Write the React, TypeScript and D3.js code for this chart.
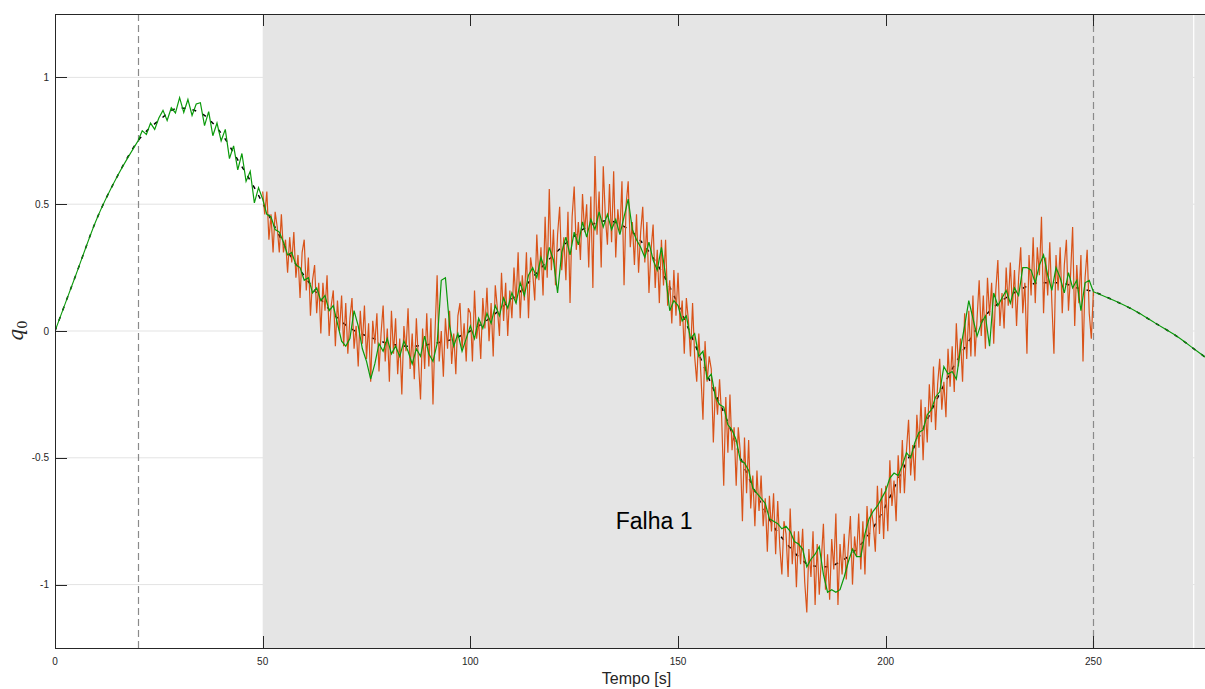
import React, { useEffect, useRef } from 'react';
import * as d3 from 'd3';

// reference attitude q0 (black dashed), read at irregular times [s]
const refTime = [
    0, 5, 10, 15, 20, 25, 30, 35, 40, 44, 48, 52, 56, 61, 66, 71, 76, 81, 86, 91, 95, 100, 105, 109, 112,
    116, 120, 124, 127, 130, 133, 136, 139, 142, 146, 150, 153, 158, 162, 166, 170, 173, 176, 179, 182,
    186, 189, 192, 196, 199, 204, 208, 212, 216, 220, 224, 228, 232, 237, 242, 246, 250, 255, 260, 265,
    270, 275, 280,
];
const refValue = [
    0, 0.22, 0.44, 0.61, 0.75, 0.83, 0.88, 0.86, 0.78, 0.675, 0.565, 0.44, 0.315, 0.195, 0.085, 0.012,
    -0.025, -0.052, -0.06, -0.05, -0.036, 0, 0.055, 0.113, 0.155, 0.23, 0.3, 0.36, 0.4, 0.425, 0.435, 0.42,
    0.39, 0.335, 0.235, 0.105, -0.01, -0.21, -0.36, -0.54, -0.68, -0.77, -0.835, -0.89, -0.925, -0.93,
    -0.91, -0.875, -0.8, -0.72, -0.55, -0.42, -0.28, -0.15, -0.04, 0.06, 0.12, 0.16, 0.19, 0.19, 0.17,
    0.155, 0.12, 0.08, 0.03, -0.02, -0.08, -0.14,
];

// estimate (green), one sample per second from t = 20 s to 250 s
const estStart = 20;
const estStep = 1;
const estimate = [
    0.75, 0.79, 0.775, 0.82, 0.795, 0.84, 0.87, 0.83, 0.88, 0.86,
    0.92, 0.862, 0.913, 0.85, 0.895, 0.9, 0.81, 0.865, 0.77, 0.82,
    0.75, 0.795, 0.68, 0.73, 0.635, 0.7, 0.59, 0.63, 0.505, 0.565,
    0.52, 0.46, 0.45, 0.4, 0.39, 0.35, 0.3, 0.31, 0.26, 0.25,
    0.2, 0.21, 0.15, 0.17, 0.12, 0.14, 0.08, 0.1, 0.03, -0.04,
    -0.06, -0.03, 0.08, 0.02, -0.07, -0.12, -0.19, -0.13, -0.05, -0.08,
    -0.03, -0.09, -0.06, -0.1, -0.04, -0.08, -0.13, -0.07, -0.1, -0.02,
    -0.09, -0.12, -0.05, 0.2, 0.21, 0.02, -0.06, -0.01, -0.08, -0.03,
    0.02, -0.03, 0.05, 0.01, 0.07, 0.03, 0.1, 0.06, 0.13, 0.09,
    0.15, 0.11, 0.19, 0.14, 0.22, 0.25, 0.21, 0.29, 0.24, 0.33,
    0.28, 0.15, 0.31, 0.37, 0.3, 0.39, 0.34, 0.43, 0.37, 0.44,
    0.4, 0.47, 0.41, 0.46, 0.4, 0.44, 0.38, 0.45, 0.52, 0.4,
    0.36, 0.33, 0.29, 0.35, 0.28, 0.24, 0.33, 0.22, 0.08, 0.12,
    0.1, 0.04, 0.06, -0.03, -0.01, -0.1, -0.08, -0.19, -0.17, -0.26,
    -0.29, -0.3, -0.37, -0.39, -0.43, -0.51, -0.52, -0.55, -0.62, -0.64,
    -0.66, -0.68, -0.74, -0.75, -0.76, -0.78, -0.77, -0.79, -0.83, -0.84,
    -0.86, -0.93, -0.9, -0.88, -0.85, -0.96, -1.03, -1.02, -1.03, -1.02,
    -0.97, -0.91, -0.86, -0.89, -0.89, -0.8, -0.74, -0.71, -0.69, -0.66,
    -0.63, -0.58, -0.56, -0.57, -0.53, -0.48, -0.5, -0.44, -0.4, -0.39,
    -0.33, -0.31, -0.26, -0.24, -0.14, -0.17, -0.16, -0.19, -0.07, 0.02,
    0.12, 0.05, -0.02, 0.03, 0.06, -0.06, 0.15, 0.1, 0.13, 0.16,
    0.11, 0.17, 0.14, 0.25, 0.25, 0.24, 0.19, 0.26, 0.3, 0.22,
    0.16, 0.25, 0.21, 0.15, 0.23, 0.17, 0.2, 0.08, 0.19, 0.2,
    0.155,
];

// measurement (orange), every 0.5 s from t = 50 s to 250 s
const measStart = 50;
const measStep = 0.5;
const measurement = [
    0.55, 0.46, 0.55, 0.36, 0.46, 0.31, 0.47, 0.41, 0.31, 0.46, 0.31, 0.36, 0.23, 0.37, 0.27, 0.39, 0.21, 0.3, 0.13, 0.31,
    0.36, 0.16, 0.29, 0.06, 0.2, 0.26, 0.07, 0.19, -0.01, 0.19, 0.08, 0.22, -0.02, 0.1, 0.16, -0.06, 0.12, 0.0, 0.14, -0.06,
    0.11, -0.09, 0.05, 0.13, -0.07, 0.02, -0.14, 0.08, -0.05, 0.1, -0.11, 0.03, -0.2, 0.04, -0.05, 0.07, -0.16, -0.01, 0.1, -0.12,
    0.01, -0.2, 0.08, -0.09, 0.05, -0.17, -0.03, -0.25, 0.02, -0.08, 0.09, -0.15, -0.01, -0.19, 0.05, -0.12, -0.27, 0.01, -0.15, 0.07,
    -0.14, 0.05, -0.29, 0.0, 0.22, -0.12, 0.0, -0.18, 0.05, -0.07, 0.08, -0.13, -0.01, -0.17, 0.06, 0.11, -0.07, 0.03, -0.12, 0.09,
    0.07, -0.12, 0.16, -0.03, 0.04, -0.11, 0.13, 0.01, 0.17, -0.04, 0.11, -0.1, 0.18, 0.09, -0.02, 0.23, 0.04, 0.19, -0.02, 0.16,
    0.05, 0.25, 0.11, 0.31, 0.05, 0.22, 0.12, 0.31, 0.05, 0.29, 0.23, 0.12, 0.38, 0.2, 0.33, 0.14, 0.45, 0.21, 0.56, 0.24,
    0.4, 0.18, 0.38, 0.49, 0.24, 0.37, 0.2, 0.47, 0.11, 0.45, 0.57, 0.32, 0.43, 0.28, 0.54, 0.39, 0.5, 0.25, 0.53, 0.17,
    0.69, 0.38, 0.55, 0.25, 0.65, 0.45, 0.34, 0.58, 0.35, 0.63, 0.29, 0.48, 0.39, 0.59, 0.18, 0.5, 0.59, 0.33, 0.43, 0.26,
    0.46, 0.23, 0.39, 0.49, 0.27, 0.43, 0.15, 0.32, 0.42, 0.17, 0.32, 0.11, 0.36, 0.18, 0.36, 0.1, 0.2, 0.03, 0.24, 0.06,
    0.23, 0.02, 0.12, -0.09, 0.13, 0.04, -0.1, 0.11, -0.1, -0.2, -0.01, -0.17, -0.35, -0.04, -0.2, -0.1, -0.15, -0.44, -0.22, -0.33,
    -0.19, -0.34, -0.61, -0.26, -0.48, -0.25, -0.47, -0.38, -0.61, -0.38, -0.48, -0.75, -0.42, -0.64, -0.43, -0.7, -0.57, -0.77, -0.55, -0.71,
    -0.57, -0.77, -0.66, -0.87, -0.65, -0.79, -0.64, -0.88, -0.67, -0.85, -0.96, -0.75, -0.8, -0.97, -0.7, -0.92, -0.79, -1.01, -0.79, -0.92,
    -0.78, -0.99, -1.11, -0.86, -0.97, -0.79, -1.08, -0.84, -1.04, -0.9, -0.76, -1.02, -0.88, -1.06, -0.82, -0.94, -0.72, -1.08, -0.84, -0.96,
    -0.8, -0.98, -0.85, -0.73, -1.0, -0.81, -0.89, -0.72, -0.94, -0.75, -0.96, -0.69, -0.85, -0.7, -0.76, -0.87, -0.61, -0.8, -0.62, -0.82,
    -0.61, -0.79, -0.51, -0.69, -0.59, -0.75, -0.49, -0.64, -0.43, -0.64, -0.47, -0.35, -0.57, -0.45, -0.59, -0.33, -0.46, -0.27, -0.51, -0.3,
    -0.44, -0.21, -0.36, -0.14, -0.39, -0.21, -0.11, -0.31, -0.2, -0.34, -0.07, -0.22, -0.06, -0.24, 0.03, -0.14, -0.03, -0.2, 0.07, -0.11,
    0.08, -0.1, 0.14, -0.1, 0.05, 0.2, -0.02, 0.14, -0.07, 0.21, 0.06, 0.19, -0.05, 0.16, 0.28, 0.02, 0.15, 0.01, 0.25, 0.1,
    0.27, 0.09, 0.24, 0.02, 0.21, 0.33, 0.07, 0.19, -0.09, 0.3, 0.14, 0.37, 0.11, 0.33, 0.22, 0.45, 0.07, 0.29, 0.14, 0.35,
    0.11, -0.09, 0.3, 0.16, 0.33, 0.07, 0.26, 0.36, 0.08, 0.22, 0.41, 0.02, 0.26, 0.11, 0.3, -0.12, 0.21, 0.32, 0.07, -0.03, 0.155,
];

// shaded fault windows and event markers [s]
const faultStart = [50, 274.3];
const faultEnd = [274, 300];
const eventTimes = [20, 250];
const faultLabel = 'Falha 1';
const faultLabelPos = [135, -0.75];

const xTicks = [0, 50, 100, 150, 200, 250];
const yTicks = [-1, -0.5, 0, 0.5, 1];

const WIDTH = 1205;
const HEIGHT = 689;
const FONT = '"Liberation Sans", Arial, Helvetica, sans-serif';

const App: React.FC = () => {
    const svgRef = useRef<SVGSVGElement | null>(null);

    useEffect(() => {
        document.body.style.margin = '0';
        if (svgRef.current) {
            drawChart();
        }
    }, []);

    const drawChart = () => {
        const left = 55;
        const top = 14;
        const bottom = 648;
        const right = 1218;

        const svg = d3.select(svgRef.current);
        svg.selectAll('*').remove();

        const x = d3.scaleLinear().domain([0, 280]).range([left, right]);
        const y = d3.scaleLinear().domain([-1.25, 1.25]).range([bottom, top]);

        svg.append('rect').attr('width', WIDTH).attr('height', HEIGHT).attr('fill', '#fff');

        svg.append('clipPath')
            .attr('id', 'plot-clip')
            .append('rect')
            .attr('x', left)
            .attr('y', top)
            .attr('width', right - left)
            .attr('height', bottom - top);

        const plot = svg.append('g').attr('clip-path', 'url(#plot-clip)');

        // horizontal grid
        plot.selectAll('.grid')
            .data(yTicks)
            .enter()
            .append('line')
            .attr('x1', left)
            .attr('x2', right)
            .attr('y1', (d) => y(d))
            .attr('y2', (d) => y(d))
            .attr('stroke', '#e3e3e3')
            .attr('stroke-width', 1);

        // fault windows
        plot.selectAll('.fault')
            .data(faultStart)
            .enter()
            .append('rect')
            .attr('x', (d) => x(d))
            .attr('y', top)
            .attr('width', (d, i) => x(faultEnd[i]) - x(d))
            .attr('height', bottom - top)
            .attr('fill', '#e5e5e5');

        // event markers
        plot.selectAll('.event')
            .data(eventTimes)
            .enter()
            .append('line')
            .attr('x1', (d) => Math.round(x(d)) + 0.5)
            .attr('x2', (d) => Math.round(x(d)) + 0.5)
            .attr('y1', top)
            .attr('y2', bottom)
            .attr('stroke', '#8a8a8a')
            .attr('stroke-width', 1.2)
            .attr('stroke-dasharray', '7,4');

        // reference (underneath)
        const refLine = d3
            .line<number>()
            .x((d, i) => x(refTime[i]))
            .y((d) => y(d))
            .curve(d3.curveMonotoneX);

        plot.append('path')
            .attr('d', refLine(refValue))
            .attr('fill', 'none')
            .attr('stroke', '#000')
            .attr('stroke-width', 1.5)
            .attr('stroke-dasharray', '4,7');

        // measurement
        const measLine = d3
            .line<number>()
            .x((d, i) => x(measStart + i * measStep))
            .y((d) => y(d));

        plot.append('path')
            .attr('d', measLine(measurement))
            .attr('fill', 'none')
            .attr('stroke', '#D95319')
            .attr('stroke-width', 1.2);

        // estimate: follows reference before 20 s and after 250 s
        const estColor = '#0a9a0a';
        const refIdx = refTime.map((t, i) => i);
        const preIdx = refIdx.filter((i) => refTime[i] <= estStart);
        const lastEst = estStart + (estimate.length - 1) * estStep;
        const postIdx = refIdx.filter((i) => refTime[i] >= lastEst);

        const idxLine = d3
            .line<number>()
            .x((i) => x(refTime[i]))
            .y((i) => y(refValue[i]))
            .curve(d3.curveMonotoneX);

        [preIdx, postIdx].forEach((idx) => {
            plot.append('path')
                .attr('d', idxLine(idx))
                .attr('fill', 'none')
                .attr('stroke', estColor)
                .attr('stroke-width', 1.1);
        });

        const estLine = d3
            .line<number>()
            .x((d, i) => x(estStart + i * estStep))
            .y((d) => y(d));

        plot.append('path')
            .attr('d', estLine(estimate))
            .attr('fill', 'none')
            .attr('stroke', estColor)
            .attr('stroke-width', 1.2);

        // fault label
        svg.append('text')
            .attr('x', x(faultLabelPos[0]))
            .attr('y', y(faultLabelPos[1]))
            .attr('dy', '0.35em')
            .style('font-family', FONT)
            .style('font-size', '23px')
            .style('fill', '#000')
            .text(faultLabel);

        // axes box
        const axisColor = '#262626';
        svg.append('rect')
            .attr('x', left + 0.5)
            .attr('y', top + 0.5)
            .attr('width', right - left)
            .attr('height', bottom - top)
            .attr('fill', 'none')
            .attr('stroke', axisColor)
            .attr('stroke-width', 1);

        const tickLen = 12;
        const xt = svg.selectAll('.xtick').data(xTicks).enter().append('g');
        xt.append('line')
            .attr('x1', (d) => Math.round(x(d)) + 0.5)
            .attr('x2', (d) => Math.round(x(d)) + 0.5)
            .attr('y1', bottom)
            .attr('y2', bottom - tickLen)
            .attr('stroke', axisColor);
        xt.append('line')
            .attr('x1', (d) => Math.round(x(d)) + 0.5)
            .attr('x2', (d) => Math.round(x(d)) + 0.5)
            .attr('y1', top)
            .attr('y2', top + tickLen)
            .attr('stroke', axisColor);
        xt.append('text')
            .attr('x', (d) => x(d))
            .attr('y', bottom + 17)
            .attr('text-anchor', 'middle')
            .style('font-family', FONT)
            .style('font-size', '10px')
            .style('fill', axisColor)
            .text((d) => d3.format('')(d));

        const yt = svg.selectAll('.ytick').data(yTicks).enter().append('g');
        yt.append('line')
            .attr('x1', left)
            .attr('x2', left + tickLen)
            .attr('y1', (d) => Math.round(y(d)) + 0.5)
            .attr('y2', (d) => Math.round(y(d)) + 0.5)
            .attr('stroke', axisColor);
        yt.append('text')
            .attr('x', left - 6)
            .attr('y', (d) => y(d))
            .attr('dy', '0.35em')
            .attr('text-anchor', 'end')
            .style('font-family', FONT)
            .style('font-size', '10px')
            .style('fill', axisColor)
            .text((d) => String(d));

        // axis labels
        svg.append('text')
            .attr('x', (left + right) / 2)
            .attr('y', 684)
            .attr('text-anchor', 'middle')
            .style('font-family', FONT)
            .style('font-size', '16px')
            .style('fill', axisColor)
            .text('Tempo [s]');

        const ylab = svg
            .append('text')
            .attr('transform', `translate(23, ${y(0)}) rotate(-90)`)
            .attr('text-anchor', 'middle')
            .style('fill', axisColor);
        ylab.append('tspan')
            .style('font-family', '"DejaVu Serif", "Liberation Serif", serif')
            .style('font-style', 'italic')
            .style('font-size', '20px')
            .text('q');
        ylab.append('tspan')
            .attr('dy', 4)
            .style('font-family', '"DejaVu Serif", "Liberation Serif", serif')
            .style('font-size', '13px')
            .text('0');
    };

    return <svg ref={svgRef} width={WIDTH} height={HEIGHT} style={{ display: 'block' }}></svg>;
};

export default App;
